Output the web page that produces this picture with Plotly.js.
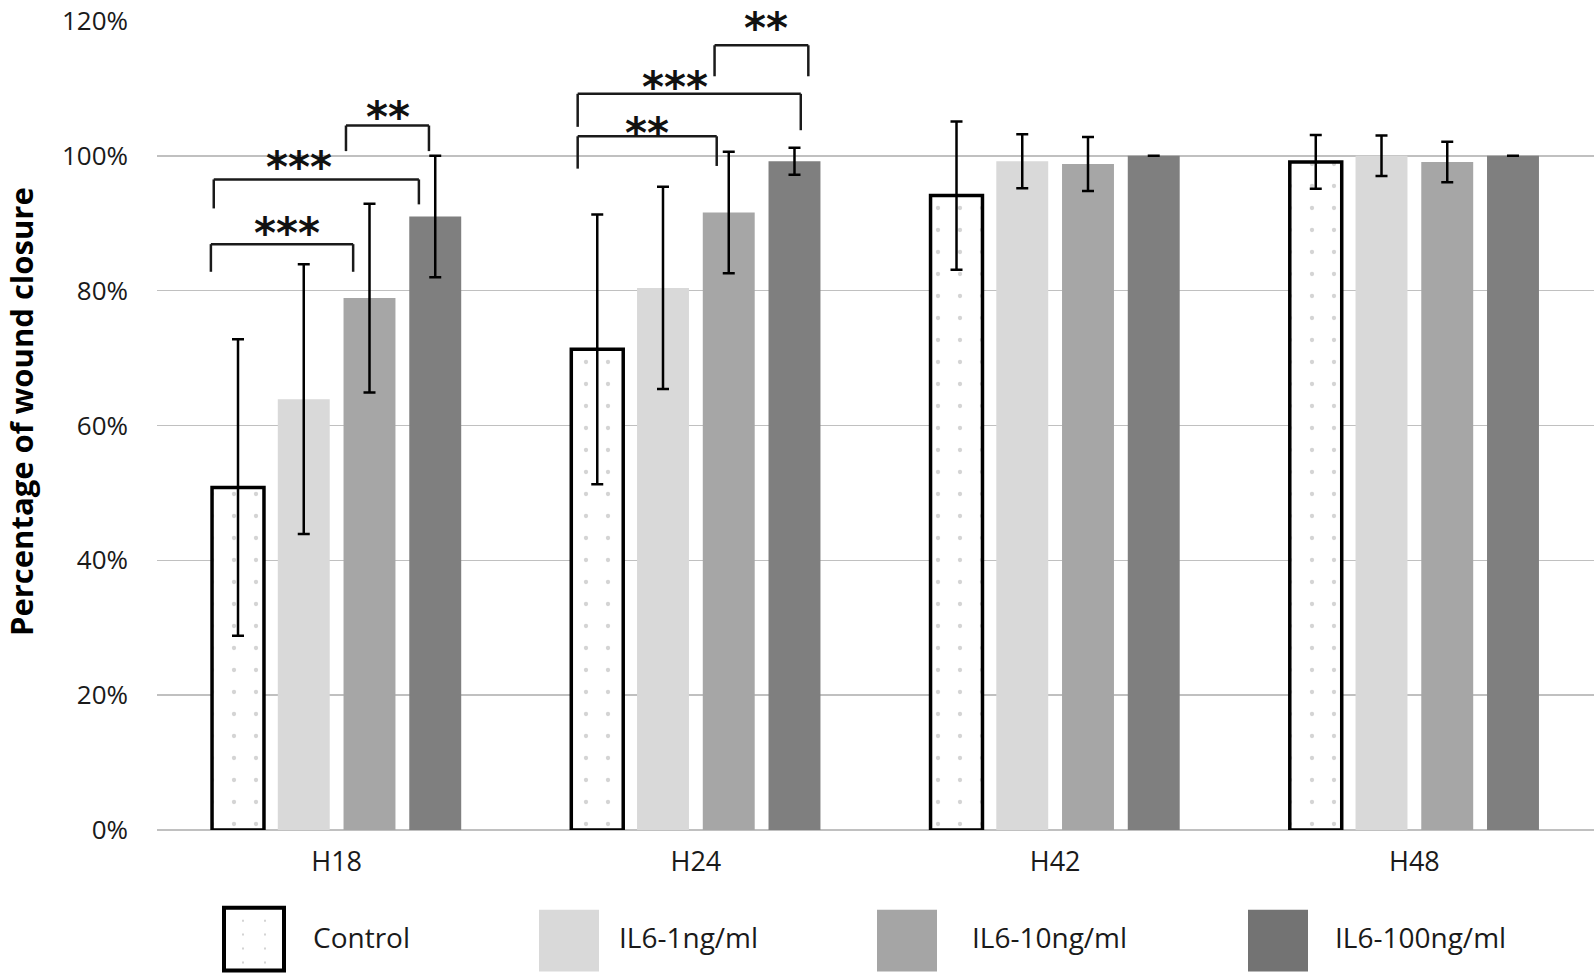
<!DOCTYPE html>
<html>
<head>
<meta charset="utf-8">
<script src="https://cdn.plot.ly/plotly-3.0.1.min.js"></script>
<style>
  html, body { margin: 0; padding: 0; background: #ffffff; }
  #chart { width: 1594px; height: 974px; }
</style>
</head>
<body>
<div id="chart"></div>
<script>
// ---------- data ----------
const categories = ['H18', 'H24', 'H42', 'H48'];
const seriesNames = ['Control', 'IL6-1ng/ml', 'IL6-10ng/ml', 'IL6-100ng/ml'];

const controlMean = [50.8, 71.3, 94.1, 99.1];
const controlErr  = [22, 20, 11, 4];
const il6_1Mean   = [63.9, 80.4, 99.2, 100];
const il6_1Err    = [20, 15, 4, 3];
const il6_10Mean  = [78.9, 91.6, 98.8, 99.1];
const il6_10Err   = [14, 9, 4, 3];
const il6_100Mean = [91.0, 99.2, 100, 100];
const il6_100Err  = [9, 2, 0, 0];

const yTickVals = [0, 20, 40, 60, 80, 100, 120];

// significance brackets (category index, offsets within category, y levels in %)
const bracketCategory = [0, 0, 0, 1, 1, 1];
const bracketX0       = [-0.350, -0.342, 0.026, -0.329, -0.329, 0.052];
const bracketX1       = [0.046, 0.229, 0.257, 0.058, 0.292, 0.313];
const bracketY        = [86.9, 96.5, 104.5, 102.9, 109.2, 116.4];
const bracketLeftLeg  = [82.8, 92.2, 100.7, 98.1, 104.3, 111.8];
const bracketRightLeg = [82.8, 92.8, 100.7, 98.5, 103.8, 111.8];
const bracketLabels   = ['***', '***', '**', '**', '***', '**'];
const labelX          = [-0.139, -0.105, 0.143, -0.137, -0.058, 0.195];
const labelY          = [89.9, 99.7, 107.1, 104.8, 111.6, 120.4];

// ---------- styles ----------
const yRange = [0, 120];
const barColors = ['#ffffff', '#d9d9d9', '#a6a6a6', '#7f7f7f'];
const legendColors = ['#ffffff', '#d9d9d9', '#a5a5a5', '#737373'];
const xIdx = categories.map((c, i) => i);

const means = [controlMean, il6_1Mean, il6_10Mean, il6_100Mean];
const errs = [controlErr, il6_1Err, il6_10Err, il6_100Err];

const traces = seriesNames.map((name, k) => {
  const marker = { color: barColors[k] };
  if (k === 0) {
    marker.line = { color: '#000000', width: 3.5 };
    marker.pattern = { shape: '.', fgcolor: '#d4d4d4', bgcolor: '#ffffff', size: 22, solidity: 0.03 };
  } else {
    marker.line = { width: 0 };
  }
  return {
    type: 'bar',
    name: name,
    x: xIdx,
    y: means[k],
    marker: marker,
    error_y: { type: 'data', array: errs[k], visible: true, color: '#000000', thickness: 2.5, width: 6 },
    hoverinfo: 'y+name',
    showlegend: false
  };
});

// brackets as shapes
const shapes = [];
bracketCategory.forEach((c, i) => {
  const x0 = c + bracketX0[i], x1 = c + bracketX1[i];
  const line = { color: '#1a1a1a', width: 2.5 };
  shapes.push({ type: 'line', xref: 'x', yref: 'y', x0: x0, x1: x1, y0: bracketY[i], y1: bracketY[i], line: line });
  shapes.push({ type: 'line', xref: 'x', yref: 'y', x0: x0, x1: x0, y0: bracketLeftLeg[i], y1: bracketY[i], line: line });
  shapes.push({ type: 'line', xref: 'x', yref: 'y', x0: x1, x1: x1, y0: bracketRightLeg[i], y1: bracketY[i], line: line });
});

const annotations = bracketCategory.map((c, i) => ({
  xref: 'x', yref: 'paper', x: c + labelX[i], y: (labelY[i] - yRange[0]) / (yRange[1] - yRange[0]),
  text: bracketLabels[i],
  showarrow: false, xanchor: 'center', yanchor: 'middle', yshift: -10,
  font: { family: 'DejaVu Sans', size: 42, color: '#111111', weight: 'bold' }
}));

// manual legend (large swatches as in the reference)
const W = 1594, H = 974;
const mL = 157, mR = 0, mT = 20.7, mB = 974 - 830.3;
const plotW = W - mL - mR, plotH = H - mT - mB;
const px2x = p => (p - mL) / plotW;
const py2y = p => (H - mB - p) / plotH;
const legendSwatchLeft = [224, 539, 877, 1248];
const legendTextLeft = [311, 617, 970, 1333];
seriesNames.forEach((name, k) => {
  shapes.push({
    type: 'rect', xref: 'paper', yref: 'paper',
    x0: px2x(legendSwatchLeft[k]), x1: px2x(legendSwatchLeft[k] + 60),
    y0: py2y(k === 0 ? 971 : 972), y1: py2y(k === 0 ? 908 : 910),
    fillcolor: legendColors[k],
    line: k === 0 ? { color: '#000000', width: 4 } : { width: 0 }
  });
  annotations.push({
    xref: 'paper', yref: 'paper', x: px2x(legendTextLeft[k]), y: py2y(937),
    text: name, showarrow: false, xanchor: 'left', yanchor: 'middle',
    font: { family: 'Open Sans', size: 28, color: '#1a1a1a' }
  });
});
// faint dots inside the Control legend swatch
[0, 1].forEach(cx => {
  [0, 1, 2, 3].forEach(ry => {
    const dx = legendSwatchLeft[0] + 18 + cx * 22, dy = 920 + ry * 14;
    shapes.push({
      type: 'rect', xref: 'paper', yref: 'paper',
      x0: px2x(dx), x1: px2x(dx + 2), y0: py2y(dy + 2), y1: py2y(dy),
      fillcolor: '#d4d4d4', line: { width: 0 }
    });
  });
});

// y-axis title as rotated annotation
annotations.push({
  xref: 'paper', yref: 'paper', x: px2x(21), y: py2y(412),
  text: 'Percentage of wound closure', textangle: -90, showarrow: false,
  xanchor: 'center', yanchor: 'middle',
  font: { family: 'Open Sans', size: 31, color: '#000000', weight: 'bold' }
});

const layout = {
  width: W, height: H,
  margin: { l: mL, r: mR, t: mT, b: mB, pad: 0 },
  paper_bgcolor: '#ffffff', plot_bgcolor: '#ffffff',
  barmode: 'group', bargap: 0.268, bargroupgap: 0.21,
  font: { family: 'Open Sans', color: '#1a1a1a' },
  showlegend: false,
  xaxis: {
    range: [-0.5, 3.5], tickmode: 'array', tickvals: xIdx, ticktext: categories,
    showgrid: false, zeroline: false, showline: false, ticks: '',
    tickfont: { family: 'Open Sans', size: 27, color: '#1a1a1a' },
    ticklabelstandoff: 13, fixedrange: true
  },
  yaxis: {
    range: yRange, tickmode: 'array', tickvals: yTickVals,
    ticktext: yTickVals.map(v => v + '%'),
    showgrid: true, gridcolor: '#c0c0c0', gridwidth: 1.5,
    zeroline: true, zerolinecolor: '#c0c0c0', zerolinewidth: 1.5,
    showline: false, ticks: '',
    tickfont: { family: 'Open Sans', size: 26, color: '#1a1a1a' },
    ticklabelstandoff: 28,
    fixedrange: true
  },
  shapes: shapes,
  annotations: annotations
};

Plotly.newPlot('chart', traces, layout, { displayModeBar: false, staticPlot: true });
</script>
</body>
</html>
